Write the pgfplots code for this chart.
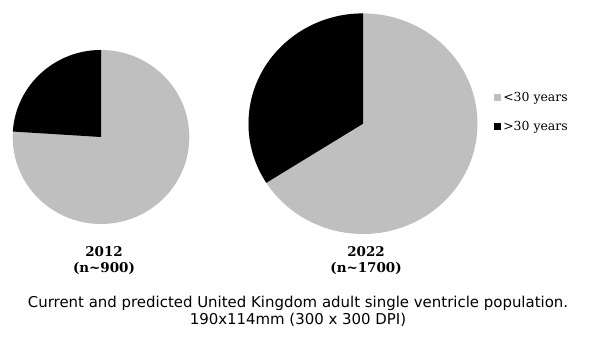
\documentclass[border=0pt]{standalone}
\usepackage{pgfplots}
\usepackage{pgfplotstable}
\pgfplotsset{compat=1.18}
\usepackage{fontspec}
\setmainfont{DejaVu Serif}
\newfontfamily\capfont{DejaVu Sans}
\definecolor{young}{RGB}{191,191,191}
\definecolor{old}{RGB}{0,0,0}

% share (%) of patients under / over 30, with the pie placement and radii
\pgfplotstableread{
year n    under over cx  cy    rx    ry
2012 900  76    24   101 201   88.3  87
2022 1700 66    34   363 214.3 114.5 110.3
}\pies

% \getpie{row}{suffix}: copies one row into \pieOver<suffix>, \pieCx<suffix>, ...
\newcommand\getfield[3]{%
  \pgfplotstablegetelem{#1}{#2}\of\pies%
  \expandafter\edef\csname #3\endcsname{\pgfplotsretval}}
\newcommand\getpie[2]{%
  \getfield{#1}{over}{pieOver#2}%
  \getfield{#1}{cx}{pieCx#2}%
  \getfield{#1}{cy}{pieCy#2}%
  \getfield{#1}{rx}{pieRx#2}%
  \getfield{#1}{ry}{pieRy#2}%
}

\begin{document}
\begin{tikzpicture}
\getpie{0}{A}
\getpie{1}{B}
\pgfmathsetmacro\endA{90+3.6*\pieOverA}
\pgfmathsetmacro\endB{90+3.6*\pieOverB}
\begin{axis}[
  x=1bp, y=1bp, scale only axis,
  xmin=0, xmax=594, ymin=0, ymax=338,
  hide axis, clip=false,
]
\path (axis cs:0,0) rectangle (axis cs:594,338);

% 2012 pie
\fill[young] (axis cs:\pieCxA,\pieCyA) ellipse [x radius=\pieRxA bp, y radius=\pieRyA bp];
\fill[old] (axis cs:\pieCxA,\pieCyA) -- ++(0,\pieRyA bp)
  arc [start angle=90, end angle=\endA, x radius=\pieRxA bp, y radius=\pieRyA bp] -- cycle;

% 2022 pie
\fill[young] (axis cs:\pieCxB,\pieCyB) ellipse [x radius=\pieRxB bp, y radius=\pieRyB bp];
\fill[old] (axis cs:\pieCxB,\pieCyB) -- ++(0,\pieRyB bp)
  arc [start angle=90, end angle=\endB, x radius=\pieRxB bp, y radius=\pieRyB bp] -- cycle;

% year labels
\node[font=\bfseries\fontsize{13.5}{16}\selectfont, align=center]
  at (axis cs:104,77) {2012\\(n\textasciitilde900)};
\node[font=\bfseries\fontsize{13.5}{16}\selectfont, align=center]
  at (axis cs:366,77) {2022\\(n\textasciitilde1700)};

% legend
\node[anchor=west, font=\fontsize{12.5}{14}\selectfont, inner sep=0pt]
  at (axis cs:494,240) {\textcolor{young}{\rule{7bp}{7bp}}\,<30 years};
\node[anchor=west, font=\fontsize{12.5}{14}\selectfont, inner sep=0pt]
  at (axis cs:494,211) {\textcolor{old}{\rule{7bp}{7bp}}\,>30 years};

% caption
\node[font=\capfont\fontsize{15}{17}\selectfont, align=center]
  at (axis cs:298,26.5) {Current and predicted United Kingdom adult single ventricle population.\\190x114mm (300 x 300 DPI)};
\end{axis}
\end{tikzpicture}
\end{document}
